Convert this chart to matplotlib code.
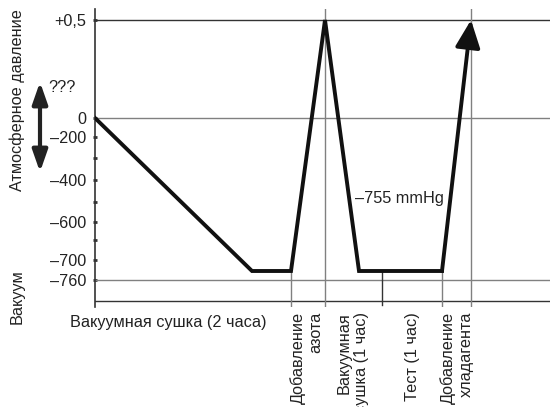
import matplotlib
matplotlib.use("Agg")
import matplotlib.pyplot as plt

plt.rcParams['font.family'] = ['Liberation Sans', 'DejaVu Sans']

# schematic coordinates: x = time units, y = schematic pressure level (0 = atmosphere)
t = [0, 157, 196, 230, 264, 347, 376]
p = [0, -153, -153, 98, -153, -153, 98]

tick_pos = [98, 0, -19, -40, -62, -84, -104, -122, -142, -162]
tick_lab = ['+0,5', '0', '–200', '', '–400', '', '–600', '', '–700', '–760']

LEVEL_TOP, LEVEL_ATM, LEVEL_VAC, LEVEL_BASE = 98, 0, -162, -183
full_vlines = [230, 376]
short_vlines = [(196, -189), (287, -187), (347, -189)]
phase_labels = [(212, 'Добавление\nазота'), (258, 'Вакуумная\nсушка (1 час)'),
                (318, 'Тест (1 час)'), (362, 'Добавление\nхладагента')]

DARK, GRAY, TXT = '#333333', '#808080', '#222222'
FS = 11.7

fig = plt.figure(figsize=(5.5, 4.07), dpi=100)
ax = fig.add_axes([95 / 550, 100 / 407, 455 / 550, 298 / 407])
ax.set_xlim(0, 455)
ax.set_ylim(-189, 109)
for s in ['top', 'right', 'bottom']:
    ax.spines[s].set_visible(False)
ax.spines['left'].set_color(DARK)
ax.spines['left'].set_linewidth(1.2)
ax.set_xticks([])
ax.set_yticks(tick_pos, tick_lab)
ax.tick_params(axis='y', direction='inout', length=3, width=2, color=DARK,
               labelsize=FS, labelcolor=TXT, pad=5)

ax.axhline(LEVEL_TOP, color=DARK, lw=1)
ax.axhline(LEVEL_ATM, color=GRAY, lw=1)
ax.axhline(LEVEL_VAC, color=GRAY, lw=1)
ax.axhline(LEVEL_BASE, color=DARK, lw=1)
for x in full_vlines:
    ax.axvline(x, color=GRAY, lw=1)
for x, y0 in short_vlines:
    ax.plot([x, x], [p[2], y0], color=GRAY if x != 287 else DARK, lw=1)

ax.plot(t[:-1], p[:-1], color='#111111', lw=2.8, solid_joinstyle='miter', zorder=5)
ax.annotate('', xy=(t[-1], p[-1]), xytext=(t[-2], p[-2]),
            arrowprops=dict(arrowstyle='-|>,head_length=0.42,head_width=0.19',
                            mutation_scale=40, lw=2.8, color='#111111',
                            shrinkA=0, shrinkB=0), zorder=5)

# "???" double arrow
ax.annotate('', xy=(-55, 36), xytext=(-55, -54), annotation_clip=False,
            arrowprops=dict(arrowstyle='<|-|>,head_length=1.0,head_width=0.35',
                            mutation_scale=13, lw=3, color='#222222',
                            shrinkA=0, shrinkB=0))
ax.text(-47, 31, '???', fontsize=FS, color=TXT, va='center', ha='left', clip_on=False)

ax.text(260, -81, '–755 mmHg', fontsize=FS, color=TXT, va='center', ha='left')
ax.text(-25, -204, 'Вакуумная сушка (2 часа)', fontsize=FS, color=TXT,
        va='center', ha='left', clip_on=False)
for x, lab in phase_labels:
    ax.text(x, -194, lab, rotation=90, fontsize=FS, color=TXT, ha='center', va='top',
            multialignment='right', linespacing=1.2, clip_on=False)

fig.text(17 / 550, 1 - 100 / 407, 'Атмосферное давление', rotation=90, fontsize=FS,
         color=TXT, ha='center', va='center')
fig.text(17 / 550, 1 - 297 / 407, 'Вакуум', rotation=90, fontsize=FS,
         color=TXT, ha='center', va='center')

fig.savefig('out.png', dpi=100, facecolor='white')
